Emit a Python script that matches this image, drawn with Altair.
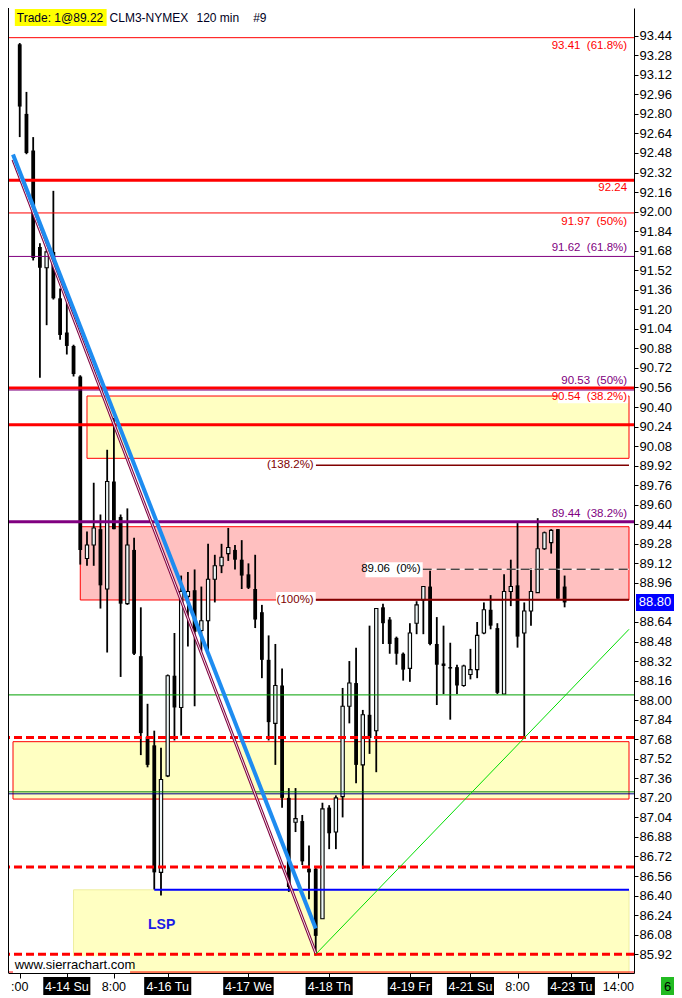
import altair as alt
import pandas as pd

FONT = "Liberation Sans"

# ---------------- 2-hour candles, CLM3-NYMEX ----------------
bar_index = list(range(82))
opens = [93.37, 92.80, 92.50, 91.71, 91.54, 91.67, 91.29, 91.01, 90.90, 90.65,
         89.16, 89.27, 89.40, 88.91, 89.79, 89.50, 88.79, 89.23, 88.36, 87.70,
         87.63, 86.59, 87.38, 88.20, 87.94, 88.85, 88.90, 88.57, 88.65, 88.99,
         89.10, 89.20, 89.23, 89.15, 89.03, 88.91, 88.72, 88.33, 87.81, 88.12,
         87.20, 87.00, 87.01, 86.62, 86.62, 86.21, 87.12, 86.92, 87.21, 87.95,
         88.14, 87.47, 87.88, 87.75, 88.76, 88.66, 88.51, 88.38, 88.26, 88.63,
         88.82, 88.93, 88.46, 88.30, 88.27, 88.27, 88.12, 88.21, 88.25, 88.55,
         88.74, 88.59, 88.05, 88.89, 88.94, 88.55, 88.73, 88.88, 89.24, 89.29,
         89.40, 88.93]
highs = [93.38, 92.98, 92.61, 91.74, 91.75, 92.17, 91.37, 91.34, 90.91, 90.66,
         89.38, 89.78, 89.52, 90.05, 90.31, 89.52, 89.57, 89.33, 88.76, 87.97,
         87.75, 87.61, 88.21, 88.55, 89.02, 89.05, 89.07, 88.93, 89.28, 89.19,
         89.28, 89.41, 89.27, 89.31, 89.12, 89.19, 88.78, 88.53, 88.46, 88.26,
         87.28, 87.28, 87.06, 86.81, 86.63, 87.16, 87.14, 87.22, 88.10, 88.32,
         88.43, 87.92, 88.61, 88.75, 88.79, 88.68, 88.52, 88.39, 88.63, 88.81,
         88.93, 89.06, 88.68, 88.61, 88.47, 88.29, 88.29, 88.42, 88.64, 88.80,
         88.86, 88.63, 89.03, 89.15, 89.45, 88.80, 89.08, 89.49, 89.38, 89.40,
         89.40, 89.02]
lows = [92.61, 92.47, 91.60, 90.64, 91.07, 91.28, 90.95, 90.83, 90.65, 89.11,
        89.10, 89.10, 88.75, 88.39, 89.40, 88.19, 88.78, 88.37, 87.55, 87.45,
        86.45, 86.40, 87.37, 87.67, 87.71, 88.44, 87.95, 88.40, 88.37, 88.80,
        89.04, 89.14, 89.07, 88.91, 88.91, 88.59, 88.18, 87.67, 87.47, 87.12,
        86.43, 86.92, 86.65, 86.37, 85.91, 86.21, 86.78, 86.78, 87.04, 87.81,
        87.32, 86.62, 87.56, 87.41, 88.46, 88.38, 88.29, 88.16, 88.15, 88.54,
        88.54, 88.45, 87.96, 88.05, 87.84, 88.05, 88.11, 88.17, 88.18, 88.54,
        88.58, 88.05, 88.05, 88.77, 88.43, 87.70, 88.61, 88.88, 89.23, 89.20,
        88.83, 88.76]
closes = [92.86, 92.48, 91.62, 91.54, 91.67, 91.29, 90.99, 90.90, 90.67, 89.23,
          89.27, 89.41, 88.94, 89.79, 89.40, 88.79, 89.27, 88.38, 87.73, 87.47,
          86.59, 87.35, 88.20, 87.94, 88.89, 88.89, 88.56, 88.65, 88.99, 89.10,
          89.17, 89.25, 89.15, 89.02, 88.92, 88.66, 88.33, 87.82, 88.12, 87.20,
          86.47, 87.03, 86.68, 86.59, 86.07, 87.11, 86.91, 87.20, 87.95, 88.14,
          87.47, 87.88, 87.69, 88.75, 88.63, 88.46, 88.38, 88.25, 88.55, 88.78,
          88.93, 88.46, 88.29, 88.28, 88.26, 88.12, 88.28, 88.25, 88.53, 88.74,
          88.61, 88.06, 88.89, 88.93, 88.52, 88.73, 88.89, 89.24, 89.37, 89.39,
          88.83, 88.80]

# ---------------- axes ----------------
tick_index = [0, 7, 14, 22, 34, 46, 58, 67, 74, 82, 89]
tick_labels = [":00", "4-14 Su", "8:00", "4-16 Tu", "4-17 We", "4-18 Th",
               "4-19 Fr", "4-21 Su", "8:00", "4-23 Tu", "14:00"]
tick_is_date = [False, True, False, True, True, True, True, True, False, True, False]
price_ticks = [round(85.92 + 0.16 * k, 2) for k in range(48)]
price_ticks = [v for v in price_ticks if abs(v - 88.80) > 0.001]

# ---------------- drawn levels ----------------
level_price = [93.424, 92.257, 91.989, 91.633, 90.555, 90.539, 90.255, 89.461,
               88.043, 87.249, 87.233, 85.774]
level_color = ["#FF0000", "#FF0000", "#FF0000", "#800080", "#FF0000", "#800080",
               "#FF0000", "#800080", "#00A000", "#008000", "#000080", "#FF0000"]
level_width = [1, 3, 1, 1, 3, 1, 3, 3, 1, 1, 1, 1]

dashed_price = [87.694, 86.633, 85.920]

seg_start = [44, 44, 20]
seg_price = [89.923, 88.821, 86.447]
seg_color = ["#800000", "#800000", "#0000FF"]
seg_width = [1.5, 2, 2]

zero_start = [59.9]
zero_price = [89.072]

zone_x0 = [10, 9, -1, 8]
zone_lo = [89.98, 88.82, 87.19, 85.766]
zone_hi = [90.49, 89.42, 87.66, 86.447]
zone_fill = ["#FFFFC2", "#FFC0C0", "#FFFFC2", "#FFFFC2"]
zone_stroke = ["#FF0000", "#FF0000", "#FF0000", "#EEEEA0"]

trend_name = ["maroon", "maroon", "blue", "blue", "green", "green"]
trend_index = [-1, 44, -1, 44, 44, 90.571]
trend_price = [92.425, 85.93, 92.468, 86.13, 85.92, 88.58]

label_text = ["93.41\u00a0 (61.8%)", "92.24", "91.97\u00a0 (50%)", "91.62\u00a0 (61.8%)",
              "90.53\u00a0 (50%)", "90.54\u00a0 (38.2%)", "89.44\u00a0 (38.2%)",
              "(138.2%)", "(100%)", "89.06\u00a0 (0%)"]
label_index = [90.29, 90.29, 90.29, 90.29, 90.29, 90.29, 90.29, 43.7, 43.7, 59.6]
label_price = [93.359, 92.192, 91.916, 91.698, 90.612, 90.482, 89.526, 89.923, 88.821, 89.072]
label_color = ["#FF0000", "#FF0000", "#FF0000", "#800080", "#800080", "#FF0000",
               "#800080", "#800000", "#800000", "#000000"]

box_x0 = [80.0, 36.9, 38.1, 51.4, -1]
box_x1 = [90.43, 44.0, 44.0, 59.9, 16.4]
box_lo = [90.43, 89.86, 88.756, 89.007, 85.766]
box_hi = [90.532, 89.97, 88.886, 89.129, 85.904]

last_price = [88.80]
last_text = ["88.80"]

# ---------------- geometry ----------------
W, H = 626, 965
SX = W / 641.0

xs = alt.Scale(domain=[-1, 90.571], nice=False, zero=False)
ys = alt.Scale(domain=[85.766, 93.667], nice=False, zero=False)

x_axis = alt.Axis(orient="bottom", values=tick_index, labels=False, tickColor="black",
                  tickSize=5, tickWidth=1, domainColor="black", domainWidth=1,
                  grid=False, title=None, zindex=1)
y_axis = alt.Axis(orient="right", values=price_ticks, format=".2f", labelFont=FONT,
                  labelFontSize=13, labelColor="black", tickColor="black", tickSize=4,
                  tickWidth=1, domainColor="black", domainWidth=1, grid=False,
                  title=None, labelPadding=1, labelFlush=False, labelOverlap=False,
                  zindex=1)


def X(f):
    return alt.X(f, type="quantitative", scale=xs, axis=x_axis, title=None)


def Y(f):
    return alt.Y(f, type="quantitative", scale=ys, axis=y_axis, title=None)


cdf = pd.DataFrame({"i": bar_index, "o": opens, "h": highs, "l": lows, "c": closes})
cdf["up"] = cdf["c"] > cdf["o"]
cdf["top"] = cdf[["o", "c"]].max(axis=1)
cdf["bot"] = cdf[["o", "c"]].min(axis=1)
thin = (cdf["top"] - cdf["bot"]) < 0.012
mid = (cdf["top"] + cdf["bot"]) / 2
cdf.loc[thin, "top"] = mid[thin] + 0.006
cdf.loc[thin, "bot"] = mid[thin] - 0.006
up_df = cdf[cdf["up"]]
dn_df = cdf[~cdf["up"]]

zdf = pd.DataFrame({"x0": zone_x0, "x1": [90.571] * 4, "lo": zone_lo, "hi": zone_hi,
                    "f": zone_fill, "s": zone_stroke})
zones = alt.Chart(zdf).mark_rect(strokeWidth=1).encode(
    x=X("x0"), x2=alt.X2("x1"), y=Y("lo"), y2=alt.Y2("hi"),
    fill=alt.Fill("f:N", scale=None), stroke=alt.Stroke("s:N", scale=None))

wicks = alt.Chart(cdf).mark_rule(color="black", strokeWidth=1.8).encode(
    x=X("i"), y=Y("l"), y2=alt.Y2("h"))
dn_bodies = alt.Chart(dn_df).mark_bar(size=3.8, color="black", orient="vertical").encode(
    x=X("i"), y=Y("bot"), y2=alt.Y2("top"))
up_bodies = alt.Chart(up_df).mark_bar(size=3.3, fill="#EEF7F7", stroke="black",
                                      strokeWidth=1.1, orient="vertical").encode(
    x=X("i"), y=Y("bot"), y2=alt.Y2("top"))

ldf = pd.DataFrame({"p": level_price, "col": level_color, "w": level_width})
levels = alt.Chart(ldf).mark_rule().encode(
    y=Y("p"), color=alt.Color("col:N", scale=None),
    strokeWidth=alt.StrokeWidth("w:Q", scale=None))

ddf = pd.DataFrame({"p": dashed_price})
dashed = alt.Chart(ddf).mark_rule(color="#FF0000", strokeWidth=3, strokeDash=[8, 4]).encode(
    y=Y("p"))

sdf = pd.DataFrame({"x0": seg_start, "x1": [90.571] * 3, "p": seg_price,
                    "col": seg_color, "w": seg_width})
segs = alt.Chart(sdf).mark_rule().encode(
    x=X("x0"), x2=alt.X2("x1"), y=Y("p"), color=alt.Color("col:N", scale=None),
    strokeWidth=alt.StrokeWidth("w:Q", scale=None))

zrdf = pd.DataFrame({"x0": zero_start, "x1": [90.571], "p": zero_price})
zero_bg = alt.Chart(zrdf).mark_rule(color="white", strokeWidth=1).encode(
    x=X("x0"), x2=alt.X2("x1"), y=Y("p"))
zero_line = alt.Chart(zrdf).mark_rule(color="black", strokeWidth=1, strokeDash=[9, 5]).encode(
    x=X("x0"), x2=alt.X2("x1"), y=Y("p"))

tdf = pd.DataFrame({"name": trend_name, "i": trend_index, "p": trend_price})
green_line = alt.Chart(tdf[tdf["name"] == "green"]).mark_line(
    color="#00DD00", strokeWidth=1).encode(x=X("i"), y=Y("p"))
maroon_line = alt.Chart(tdf[tdf["name"] == "maroon"]).mark_line(
    color="#800040", strokeWidth=3).encode(x=X("i"), y=Y("p"))
maroon_inner = alt.Chart(tdf[tdf["name"] == "maroon"]).mark_line(
    color="white", strokeWidth=0.9).encode(x=X("i"), y=Y("p"))
blue_line = alt.Chart(tdf[tdf["name"] == "blue"]).mark_line(
    color="#1E8CF0", strokeWidth=4).encode(x=X("i"), y=Y("p"))

bdf = pd.DataFrame({"x0": box_x0, "x1": box_x1, "lo": box_lo, "hi": box_hi})
white_boxes = alt.Chart(bdf).mark_rect(fill="white").encode(
    x=X("x0"), x2=alt.X2("x1"), y=Y("lo"), y2=alt.Y2("hi"))

labdf = pd.DataFrame({"t": label_text, "i": label_index, "p": label_price, "col": label_color})
labels = alt.Chart(labdf).mark_text(align="right", baseline="middle", font=FONT,
                                    fontSize=11.5).encode(
    x=X("i"), y=Y("p"), text="t:N", color=alt.Color("col:N", scale=None))

lsp = alt.Chart(pd.DataFrame({"i": [21.1], "p": [86.155], "t": ["LSP"]})).mark_text(
    font=FONT, fontSize=14, fontWeight="bold", color="#1A1AE6", baseline="middle").encode(
    x=X("i"), y=Y("p"), text="t:N")

wm = alt.Chart(pd.DataFrame({"i": [-0.75], "p": [85.835], "t": ["www.sierrachart.com"]})).mark_text(
    font=FONT, fontSize=13, color="black", align="left", baseline="middle").encode(
    x=X("i"), y=Y("p"), text="t:N")

left_border = alt.Chart(pd.DataFrame({"a": [0]})).mark_rule(color="black", strokeWidth=1).encode(
    x=alt.value(0.5))

# header
hdr = pd.DataFrame({"a": [0]})
hdr_box = alt.Chart(hdr).mark_rect(fill="#FFFF00").encode(
    x=alt.value(7 * SX), x2=alt.value(101 * SX), y=alt.value(1), y2=alt.value(18))
hdr_texts = []
for txt, px in [("Trade: 1@89.22", 9), ("CLM3-NYMEX", 104), ("120 min", 193), ("#9", 251)]:
    hdr_texts.append(alt.Chart(pd.DataFrame({"t": [txt]})).mark_text(
        font=FONT, fontSize=12, color="#000022", align="left", baseline="middle").encode(
        x=alt.value(px * SX), y=alt.value(10), text="t:N"))

# bottom time labels
xt = pd.DataFrame({"i": tick_index, "t": tick_labels, "dark": tick_is_date})
xt["hw"] = [3.75 if "W" in t else (3.3 if "Fr" in t else 3.5) for t in tick_labels]
xt["x0"] = xt["i"] - xt["hw"]
xt["x1"] = xt["i"] + xt["hw"]
xt["tc"] = ["white" if d else "black" for d in tick_is_date]
date_boxes = alt.Chart(xt[xt["dark"]]).mark_rect(fill="black").encode(
    x=X("x0"), x2=alt.X2("x1"), y=alt.value(H + 4), y2=alt.value(H + 22))
date_text = alt.Chart(xt).mark_text(font=FONT, fontSize=12.5, align="center",
                                    baseline="middle").encode(
    x=X("i"), y=alt.value(H + 13.5), text="t:N", color=alt.Color("tc:N", scale=None))

# last price box
lp = pd.DataFrame({"p": last_price, "t": last_text})
lp["hi"] = lp["p"] + 0.07
lp["lo"] = lp["p"] - 0.07
lp_box = alt.Chart(lp).mark_rect(fill="#0000FF").encode(
    x=alt.value(W + 2), x2=alt.value(W + 40), y=Y("lo"), y2=alt.Y2("hi"))
lp_text = alt.Chart(lp).mark_text(font=FONT, fontSize=13, color="white", align="center",
                                  baseline="middle").encode(
    x=alt.value(W + 21), y=Y("p"), text="t:N")

# bar counter box
cnt = pd.DataFrame({"t": ["6"]})
cnt_box = alt.Chart(cnt).mark_rect(fill="#22BB22").encode(
    x=alt.value(W + 27), x2=alt.value(W + 40), y=alt.value(H + 4), y2=alt.value(H + 22))
cnt_text = alt.Chart(cnt).mark_text(font=FONT, fontSize=13, color="black", align="center",
                                    baseline="middle").encode(
    x=alt.value(W + 33.5), y=alt.value(H + 13.5), text="t:N")

chart = alt.layer(
    zones, wicks, dn_bodies, up_bodies,
    levels, dashed, segs, zero_bg, zero_line,
    green_line, maroon_line, maroon_inner, blue_line,
    white_boxes, labels, lsp, wm, left_border,
    hdr_box, *hdr_texts, date_boxes, date_text, lp_box, lp_text, cnt_box, cnt_text,
).properties(
    width=W, height=H,
    padding={"left": 0, "top": 0, "right": 40, "bottom": 23},
    autosize=alt.AutoSizeParams(type="none"),
    background="white",
).configure_view(stroke=None)

chart.save("out.html", embed_options={"renderer": "svg", "actions": False})
